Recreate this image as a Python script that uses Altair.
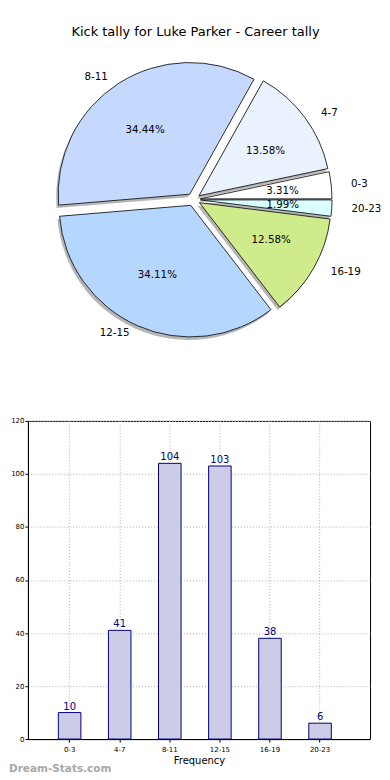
import altair as alt
import pandas as pd

# ---- data ----
categories = ["0-3", "4-7", "8-11", "12-15", "16-19", "20-23"]
counts = [10, 41, 104, 103, 38, 6]
slice_colors = ["#FFFFFF", "#EBF2FF", "#C5D9FF", "#B5D6FF", "#D0EB8C", "#D9FFFF"]
y_ticks = [0, 20, 40, 60, 80, 100, 120]
title_text = "Kick tally for Luke Parker - Career tally"
x_title = "Frequency"
watermark = "Dream-Stats.com"

FONT = "DejaVu Sans"

df = pd.DataFrame({"cat": categories, "value": counts, "idx": list(range(len(categories)))})

# ---- layout constants ----
BAR_W, BAR_H = 343, 319
AXIS_EXT = 19.0               # width of the bar chart's y-axis (labels + ticks)
PIE_W, PIE_H = BAR_W, 380
CX = 193 - 8 - AXIS_EXT       # pie centre inside the pie panel (px)
CY = PIE_H / 2
RX, RY = 138.0, 127.0
R_PX = 132
EXPLODE = 0.05

xs = alt.Scale(domain=[-CX / RX, (PIE_W - CX) / RX], nice=False, zero=False)
ys = alt.Scale(domain=[-CY / RY, (PIE_H - CY) / RY], nice=False, zero=False)

base = (
    alt.Chart(df)
    .transform_joinaggregate(total="sum(value)")
    .transform_window(cum="sum(value)", sort=[alt.SortField("idx")], frame=[None, 0])
    .transform_calculate(
        a0="2*PI*(datum.cum - datum.value)/datum.total",
        a1="2*PI*datum.cum/datum.total",
    )
    .transform_calculate(
        mid="(datum.a0 + datum.a1)/2",
        t0="5*PI/2 - datum.a1",
        t1="5*PI/2 - datum.a0",
    )
    .transform_calculate(
        cx=f"{EXPLODE}*cos(datum.mid)",
        cy=f"{EXPLODE}*sin(datum.mid)",
        lx=f"{1.1 + EXPLODE}*cos(datum.mid)",
        ly=f"{1.1 + EXPLODE}*sin(datum.mid)",
        px=f"{0.6 + EXPLODE}*cos(datum.mid)",
        py=f"{0.6 + EXPLODE}*sin(datum.mid)",
        pct="format(100*datum.value/datum.total, '.2f') + '%'",
        side="cos(datum.mid) < 0 ? 'L' : 'R'",
    )
)

pos_arc = dict(
    x=alt.X("cx:Q", scale=xs, axis=None),
    y=alt.Y("cy:Q", scale=ys, axis=None),
    theta=alt.Theta("t0:Q", scale=None),
    theta2=alt.Theta2("t1:Q"),
)

shadow = base.mark_arc(fill="#7a7a7a", opacity=0.55, xOffset=-2, yOffset=3, radius=R_PX).encode(**pos_arc)

slices = base.mark_arc(stroke="black", strokeWidth=0.8, radius=R_PX).encode(
    color=alt.Color("cat:N", scale=alt.Scale(domain=categories, range=slice_colors), legend=None),
    **pos_arc,
)

LAB = 10.3
lab_l = base.transform_filter("datum.side == 'L'").mark_text(
    align="right", baseline="middle", fontSize=LAB, font=FONT, color="black"
).encode(x=alt.X("lx:Q", scale=xs, axis=None), y=alt.Y("ly:Q", scale=ys, axis=None), text="cat:N")

lab_r = base.transform_filter("datum.side == 'R'").mark_text(
    align="left", baseline="middle", fontSize=LAB, font=FONT, color="black"
).encode(x=alt.X("lx:Q", scale=xs, axis=None), y=alt.Y("ly:Q", scale=ys, axis=None), text="cat:N")

pcts = base.mark_text(align="center", baseline="middle", fontSize=LAB, font=FONT, color="black").encode(
    x=alt.X("px:Q", scale=xs, axis=None), y=alt.Y("py:Q", scale=ys, axis=None), text="pct:N"
)

title_layer = alt.Chart(pd.DataFrame({"t": [title_text]})).mark_text(
    align="center", baseline="middle", fontSize=13, font=FONT, color="black"
).encode(x=alt.value(195 - 8 - AXIS_EXT), y=alt.value(22), text="t:N")

pie = alt.layer(shadow, slices, lab_l, lab_r, pcts, title_layer).properties(
    width=PIE_W, height=PIE_H, view=alt.ViewBackground(stroke="transparent")
)

# ---- bars ----
bdf = pd.DataFrame({"cat": categories, "value": counts})

xb = alt.X(
    "cat:N",
    sort=categories,
    scale=alt.Scale(paddingInner=0.55, paddingOuter=0.69, align=0.44),
    axis=alt.Axis(
        title=x_title, labelAngle=0, labelFontSize=7, titleFontSize=10, titleFontWeight="normal",
        titlePadding=3, labelPadding=3, tickSize=3, grid=True, gridDash=[1, 2], gridColor="#b0b0b0",
        domainColor="black", tickColor="black", labelColor="black", titleColor="black",
    ),
)
yb = alt.Y(
    "value:Q",
    scale=alt.Scale(domain=[0, 120], nice=False),
    axis=alt.Axis(
        title=None, values=y_ticks, labelFontSize=7, labelPadding=1, tickSize=3, grid=True,
        gridDash=[1, 2], gridColor="#b0b0b0", domainColor="black", tickColor="black", labelColor="black",
    ),
)

bars = alt.Chart(bdf).mark_bar(fill="#CCCCE6", stroke="#000080", strokeWidth=1).encode(x=xb, y=yb)
bar_text = alt.Chart(bdf).mark_text(
    baseline="alphabetic", dy=-3, fontSize=10, font=FONT, color="#000080"
).encode(x=alt.X("cat:N", sort=categories), y="value:Q", text="value:Q")

wm = alt.Chart(pd.DataFrame({"t": [watermark]})).mark_text(
    align="left", baseline="middle", fontSize=10.5, fontWeight="bold", font=FONT, color="#a8a8a8"
).encode(x=alt.value(-AXIS_EXT), y=alt.value(BAR_H + 30), text="t:N")

bar = alt.layer(bars, bar_text, wm).properties(
    width=BAR_W, height=BAR_H, view=alt.ViewBackground(stroke="black", strokeWidth=1)
)

chart = (
    alt.vconcat(pie, bar, spacing=26)
    .properties(padding=0)
    .configure_view(stroke="transparent")
    .configure_axis(labelFont=FONT, titleFont=FONT)
    .configure_text(font=FONT)
)

chart.save("out.html", embed_options={"renderer": "svg", "actions": False})
